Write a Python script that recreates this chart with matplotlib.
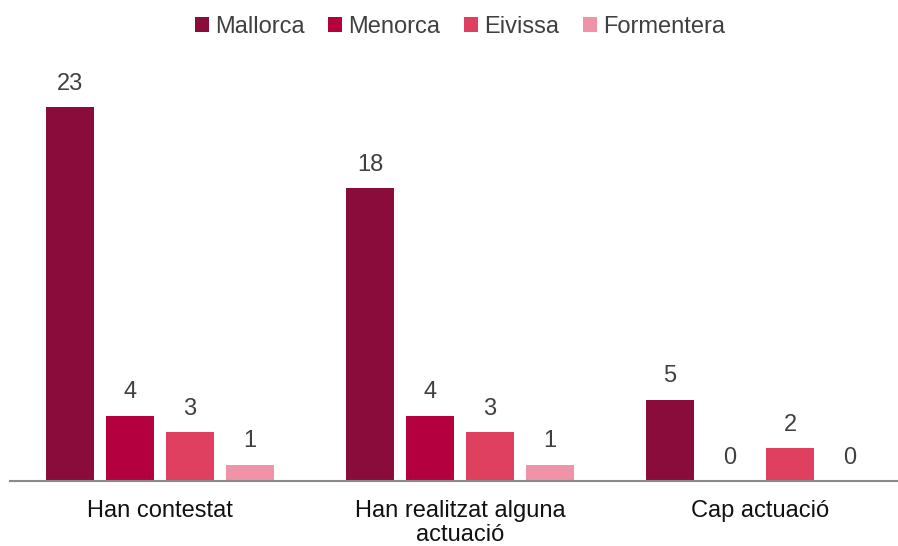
import numpy as np
import matplotlib.pyplot as plt
from matplotlib.patches import Patch

plt.rcParams['font.family'] = ['Liberation Sans', 'DejaVu Sans']

categories = ['Han contestat', 'Han realitzat alguna\nactuació', 'Cap actuació']
islands = ['Mallorca', 'Menorca', 'Eivissa', 'Formentera']
mallorca = [23, 18, 5]
menorca = [4, 4, 0]
eivissa = [3, 3, 2]
formentera = [1, 1, 0]
colors = ['#890c3a', '#b5003f', '#e04060', '#f093a8']

series = [mallorca, menorca, eivissa, formentera]

fig = plt.figure(figsize=(8.98, 5.46), dpi=100)
# axes placed so the baseline sits where the reference has it
ax = fig.add_axes([10/898, 65/546, 888/898, 421/546])

x = np.arange(len(categories))
slot = 0.2
width = 0.16
for i, (name, vals) in enumerate(zip(islands, series)):
    pos = x + (i - 1.5) * slot
    ax.bar(pos, vals, width, color=colors[i], label=name)
    for p, v in zip(pos, vals):
        ax.annotate(str(v), (p, v), xytext=(0, 9), textcoords='offset points',
                    ha='center', va='bottom', fontsize=17, color='#404040')

ax.set_xlim(-0.5, 2.46)
ax.set_ylim(0, 25.9)
ax.set_xticks(x)
ax.set_xticklabels(categories, fontsize=17, color='#111111', linespacing=1.12)
ax.tick_params(axis='x', length=0, pad=14)
ax.set_yticks([])
for s in ['top', 'right', 'left']:
    ax.spines[s].set_visible(False)
ax.spines['bottom'].set_color('#898989')
ax.spines['bottom'].set_linewidth(1.5)

handles = [Patch(facecolor=c, label=n) for c, n in zip(colors, islands)]
fig.legend(handles=handles, loc='center', bbox_to_anchor=(0.512, 1 - 27/546), ncol=4,
           frameon=False, fontsize=17, handlelength=0.6, handleheight=0.6,
           handletextpad=0.25, columnspacing=1.0, labelcolor='#404040',
           borderpad=0)

fig.savefig('out.png', dpi=100)
